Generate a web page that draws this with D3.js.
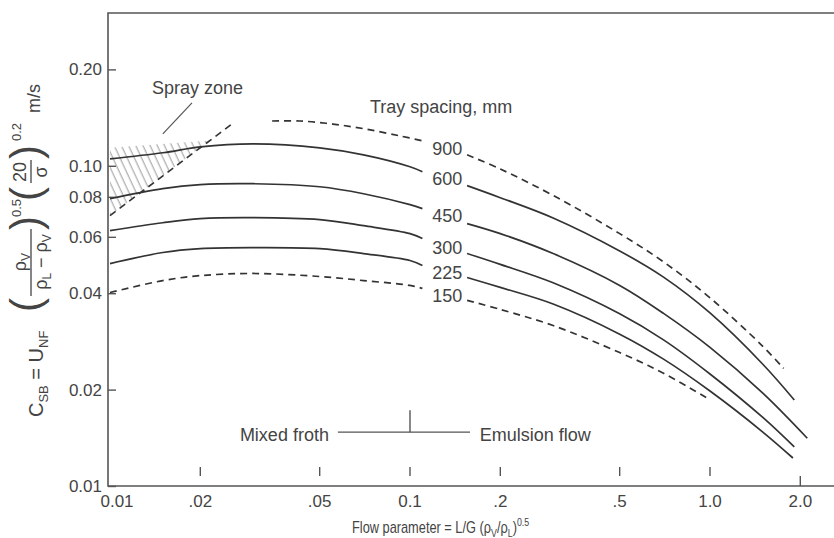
<!DOCTYPE html>
<html><head><meta charset="utf-8">
<script src="https://cdn.jsdelivr.net/npm/d3@7"></script>
<style>
body{margin:0;background:#fff}
text{font-family:"Liberation Sans",Arial,sans-serif;fill:#444}
</style>
</head><body>
<svg id="chart" width="834" height="538"></svg>
<script>
// ---------- data ----------
const xTickVals   = [0.01, 0.02, 0.05, 0.1, 0.2, 0.5, 1, 2];
const xTickLabels = ["0.01", ".02", ".05", "0.1", ".2", ".5", "1.0", "2.0"];
const yTickVals   = [0.2, 0.1, 0.08, 0.06, 0.04, 0.02, 0.01];
const yTickLabels = ["0.20", "0.10", "0.08", "0.06", "0.04", "0.02", "0.01"];

const spacings  = ["900", "600", "450", "300", "225", "150"];
const labelY    = [0.113, 0.0911, 0.0699, 0.0555, 0.0464, 0.0394];

const x900 = [0.0347, 0.043, 0.0553, 0.0719, 0.0924, 0.11, 0.155, 0.2, 0.3, 0.5, 0.7, 1.0, 1.5, 1.76];
const y900 = [0.138, 0.138, 0.135, 0.130, 0.124, 0.1197, 0.1082, 0.0977, 0.0808, 0.0614, 0.0501, 0.0387, 0.0273, 0.0233];
const x600 = [0.01, 0.015, 0.02, 0.03, 0.05, 0.07, 0.1, 0.11, 0.155, 0.2, 0.3, 0.5, 0.7, 1.0, 1.5, 1.91];
const y600 = [0.1051, 0.1098, 0.1146, 0.1171, 0.1138, 0.1082, 0.0993, 0.0958, 0.0867, 0.0795, 0.0687, 0.0542, 0.0449, 0.0347, 0.0240, 0.01856];
const x450 = [0.01, 0.015, 0.02, 0.03, 0.05, 0.07, 0.1, 0.11, 0.155, 0.2, 0.3, 0.5, 0.7, 1.0, 1.5, 2.11];
const y450 = [0.0789, 0.0848, 0.0873, 0.0879, 0.0860, 0.0818, 0.0756, 0.0735, 0.0660, 0.0614, 0.0532, 0.0423, 0.0346, 0.0271, 0.0195, 0.0141];
const x300 = [0.01, 0.015, 0.02, 0.03, 0.05, 0.07, 0.1, 0.11, 0.155, 0.2, 0.3, 0.5, 0.7, 1.0, 1.5, 1.91];
const y300 = [0.0627, 0.0664, 0.0684, 0.0689, 0.0679, 0.0650, 0.0614, 0.0593, 0.0532, 0.0492, 0.0431, 0.0345, 0.0286, 0.02238, 0.01637, 0.01324];
const x225 = [0.01, 0.015, 0.02, 0.03, 0.05, 0.07, 0.1, 0.11, 0.155, 0.2, 0.3, 0.5, 0.7, 1.0, 1.5, 1.89];
const y225 = [0.0495, 0.0536, 0.0551, 0.0555, 0.0551, 0.0532, 0.0506, 0.0488, 0.0448, 0.0417, 0.0370, 0.0298, 0.0249, 0.0198, 0.01474, 0.01223];
const x150 = [0.01, 0.015, 0.02, 0.03, 0.05, 0.07, 0.1, 0.11, 0.155, 0.2, 0.3, 0.5, 0.7, 0.98];
const y150 = [0.0402, 0.0438, 0.0454, 0.0461, 0.0451, 0.0438, 0.0423, 0.0414, 0.0380, 0.0356, 0.0317, 0.0261, 0.0225, 0.0188];

const sprayLineX = [0.01, 0.0255];
const sprayLineY = [0.0699, 0.1351];
const sprayZoneX = [0.01, 0.0215, 0.01];
const sprayZoneY = [0.1138, 0.1199, 0.0699];

// ---------- scales ----------
const svg = d3.select("#chart");
const x = d3.scaleLog().domain([0.01, 2]).range([110, 800.3]);
const y = d3.scaleLog().domain([0.01, 0.3]).range([486, 13]);
const frameLeft = 108, frameRight = 834;
const ink = "#333";

// ---------- hatch ----------
const defs = svg.append("defs");
const pat = defs.append("pattern").attr("id", "hatch")
  .attr("patternUnits", "userSpaceOnUse").attr("width", 6.5).attr("height", 6.5)
  .attr("patternTransform", "rotate(-25)");
pat.append("line").attr("x1", 3).attr("y1", -1).attr("x2", 3).attr("y2", 8)
  .attr("stroke", "#9a9a9a").attr("stroke-width", 1);

const zonePts = sprayZoneX.map((v, i) => [v, sprayZoneY[i]]);
svg.append("path")
  .attr("d", d3.line().x(d => x(d[0])).y(d => y(d[1]))(zonePts) + "Z")
  .attr("fill", "url(#hatch)");

// ---------- frame ----------
svg.append("path")
  .attr("d", `M${frameRight},${y(0.3)}H${frameLeft}V${y(0.01)}H${frameRight}`)
  .attr("fill", "none").attr("stroke", "#555").attr("stroke-width", 1.6);

// ---------- y axis ----------
const yAxis = d3.axisLeft(y).tickValues(yTickVals).tickSize(-8).tickPadding(6)
  .tickFormat((d, i) => yTickLabels[i]);
const gy = svg.append("g").attr("transform", `translate(${frameLeft},0)`).call(yAxis);
gy.select(".domain").remove();
gy.selectAll(".tick line").attr("stroke", "#555").attr("stroke-width", 1.4);
gy.selectAll(".tick text").attr("font-size", 17).attr("fill", "#444")
  .style("font-family", '"Liberation Sans",Arial,sans-serif');

// ---------- x axis ----------
const gx = svg.append("g");
gx.selectAll("line.xt").data(xTickVals).join("line").attr("class", "xt")
  .attr("x1", d => x(d)).attr("x2", d => x(d))
  .attr("y1", (d, i) => i === xTickVals.length - 1 ? y(0.01) - 10 : y(0.01) - 19)
  .attr("y2", (d, i) => i === xTickVals.length - 1 ? y(0.01) : y(0.01) - 10)
  .attr("stroke", "#555").attr("stroke-width", 1.4)
  .attr("display", (d, i) => i === 0 ? "none" : null);
gx.selectAll("text").data(xTickVals).join("text")
  .attr("x", (d, i) => x(d) + (i === 0 ? 7 : 0)).attr("y", y(0.01) + 21)
  .attr("text-anchor", "middle").attr("font-size", 17)
  .text((d, i) => xTickLabels[i]);

// ---------- curves ----------
const gapLo = 0.111, gapHi = 0.154;
const series = [
  {xs: x900, ys: y900, dash: true},
  {xs: x600, ys: y600, dash: false},
  {xs: x450, ys: y450, dash: false},
  {xs: x300, ys: y300, dash: false},
  {xs: x225, ys: y225, dash: false},
  {xs: x150, ys: y150, dash: true}
];
function withGap(s) {
  const pts = s.xs.map((v, i) => [v, s.ys[i]]);
  const k = pts.findIndex(p => p[0] >= gapHi);
  if (k > 0) pts.splice(k, 0, [(gapLo + gapHi) / 2, NaN]);
  return pts;
}
const line = d3.line()
  .defined(d => !isNaN(d[1]))
  .x(d => x(d[0])).y(d => y(d[1]))
  .curve(d3.curveCatmullRom.alpha(0.5));
svg.append("g").selectAll("path").data(series).join("path")
  .attr("d", s => line(withGap(s)))
  .attr("fill", "none").attr("stroke", ink).attr("stroke-width", 1.7)
  .attr("stroke-dasharray", s => s.dash ? "7,5" : null);

// curve labels
svg.append("g").selectAll("text").data(spacings).join("text")
  .attr("x", x(0.133)).attr("y", (d, i) => y(labelY[i])).attr("dy", "0.36em")
  .attr("text-anchor", "middle").attr("font-size", 18).text(d => d);

// spray boundary
svg.append("path")
  .attr("d", d3.line().x(d => x(d[0])).y(d => y(d[1]))(sprayLineX.map((v, i) => [v, sprayLineY[i]])))
  .attr("fill", "none").attr("stroke", ink).attr("stroke-width", 1.6).attr("stroke-dasharray", "7,5");

// ---------- annotations ----------
svg.append("text").attr("x", x(0.0138)).attr("y", y(0.1676)).attr("font-size", 18).text("Spray zone");
svg.append("line").attr("x1", x(0.015)).attr("y1", y(0.1258)).attr("x2", x(0.01876)).attr("y2", y(0.1572))
  .attr("stroke", "#555").attr("stroke-width", 1.2);
svg.append("text").attr("x", x(0.0735)).attr("y", y(0.1463)).attr("font-size", 18).text("Tray spacing, mm");

svg.append("text").attr("x", x(0.0271)).attr("y", y(0.01381)).attr("font-size", 18).text("Mixed froth");
svg.append("line").attr("x1", x(0.0575)).attr("x2", x(0.1585)).attr("y1", y(0.01473)).attr("y2", y(0.01473))
  .attr("stroke", "#555").attr("stroke-width", 1.4);
svg.append("line").attr("x1", x(0.1)).attr("x2", x(0.1)).attr("y1", y(0.01725)).attr("y2", y(0.01473))
  .attr("stroke", "#555").attr("stroke-width", 1.4);
svg.append("text").attr("x", x(0.1709)).attr("y", y(0.01381)).attr("font-size", 18).text("Emulsion flow");

// x title
const xt = svg.append("text").attr("transform", "translate(352,533) scale(0.8,1)").attr("font-size", 16);
xt.append("tspan").text("Flow parameter = L/G (ρ");
xt.append("tspan").attr("font-size", 11).attr("dy", 4).text("V");
xt.append("tspan").attr("dy", -4).text("/ρ");
xt.append("tspan").attr("font-size", 11).attr("dy", 4).text("L");
xt.append("tspan").attr("dy", -4).text(")");
xt.append("tspan").attr("font-size", 11).attr("dy", -7).text("0.5");

// y title
const yt = svg.append("g").attr("transform", "translate(43,417) rotate(-90)");
const m = yt.append("text").attr("x", 0).attr("y", 0).attr("font-size", 20);
m.append("tspan").text("C");
m.append("tspan").attr("font-size", 13).attr("dy", 5).text("SB");
m.append("tspan").attr("dy", -5).text(" = U");
m.append("tspan").attr("font-size", 13).attr("dy", 5).text("NF");
function tt(u, v, s, size, anchor) {
  return yt.append("text").attr("x", u).attr("y", v).attr("font-size", size)
    .attr("text-anchor", anchor || "start").text(s);
}
tt(105, -3, "(", 42);
const n1 = yt.append("text").attr("x", 155).attr("y", -17).attr("font-size", 18).attr("text-anchor", "middle");
n1.append("tspan").text("ρ"); n1.append("tspan").attr("font-size", 12).attr("dy", 4).text("V");
yt.append("line").attr("x1", 121).attr("x2", 188).attr("y1", -12).attr("y2", -12).attr("stroke", "#444").attr("stroke-width", 1.3);
const d1 = yt.append("text").attr("x", 155).attr("y", 4).attr("font-size", 18).attr("text-anchor", "middle");
d1.append("tspan").text("ρ"); d1.append("tspan").attr("font-size", 12).attr("dy", 4).text("L");
d1.append("tspan").attr("dy", -4).text(" − ρ"); d1.append("tspan").attr("font-size", 12).attr("dy", 4).text("V");
tt(187, -3, ")", 42);
tt(200, -22, "0.5", 13);
tt(216, -3, "(", 42);
tt(245, -17, "20", 18, "middle");
yt.append("line").attr("x1", 234).attr("x2", 257).attr("y1", -12).attr("y2", -12).attr("stroke", "#444").attr("stroke-width", 1.3);
tt(245, 4, "σ", 18, "middle");
tt(258, -3, ")", 42);
tt(276, -22, "0.2", 13);
tt(304, -3, "m/s", 18);
</script>
</body></html>
